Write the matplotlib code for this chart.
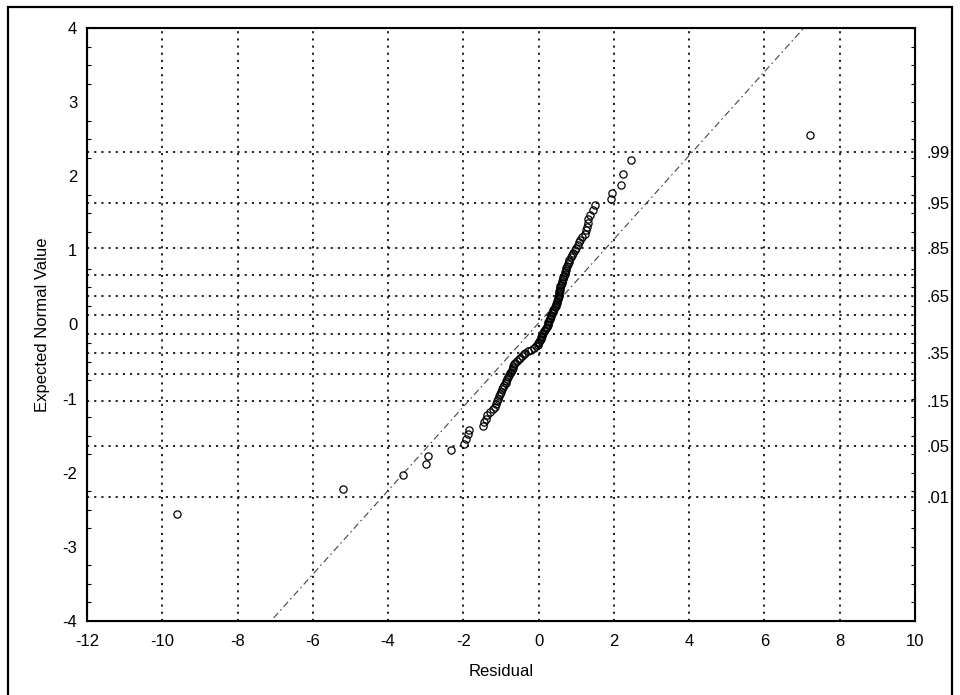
import matplotlib
matplotlib.use("Agg")
import matplotlib.pyplot as plt
from matplotlib.patches import Rectangle
from statistics import NormalDist
import numpy as np

plt.rcParams['font.family'] = ['Liberation Sans', 'DejaVu Sans']
plt.rcParams['axes.unicode_minus'] = False

# residuals, sorted ascending
residuals = [
    -9.6, -5.2, -3.6, -2.98, -2.94, -2.32, -1.97, -1.92, -1.87, -1.84,
    -1.48, -1.44, -1.40, -1.37, -1.28, -1.22, -1.17, -1.13, -1.10, -1.07,
    -1.05, -1.02, -1.00, -0.98, -0.95, -0.91, -0.88, -0.86, -0.84, -0.81,
    -0.78, -0.76, -0.74, -0.71, -0.69, -0.67, -0.65, -0.63, -0.58, -0.53,
    -0.49, -0.45, -0.40, -0.35, -0.27, -0.19, -0.12, -0.06, -0.03, -0.01,
    0.01, 0.03, 0.05, 0.06, 0.08, 0.10, 0.12, 0.14, 0.17, 0.19,
    0.22, 0.24, 0.25, 0.26, 0.27, 0.29, 0.30, 0.32, 0.34, 0.36,
    0.38, 0.39, 0.41, 0.43, 0.45, 0.46, 0.48, 0.50, 0.51, 0.52,
    0.53, 0.54, 0.55, 0.55, 0.56, 0.57, 0.58, 0.60, 0.62, 0.63,
    0.65, 0.66, 0.68, 0.69, 0.70, 0.72, 0.74, 0.76, 0.78, 0.80,
    0.82, 0.85, 0.88, 0.92, 0.96, 1.00, 1.04, 1.06, 1.10, 1.16,
    1.22, 1.26, 1.28, 1.30, 1.32, 1.36, 1.44, 1.49, 1.92, 1.95,
    2.18, 2.25, 2.45, 7.2,
]

# reference line parameters (mean and sd of the fitted normal)
ref_mean = -0.035
ref_sd = 1.77

prob_levels = [.01, .05, .15, .25, .35, .45, .55, .65, .75, .85, .95, .99]
prob_labels = ['.01', '.05', '.15', '', '.35', '', '', '.65', '', '.85', '.95', '.99']

x_ticks = list(range(-12, 11, 2))
y_ticks = list(range(-4, 5))

nd = NormalDist()
n = len(residuals)
expected = [nd.inv_cdf((j - 1.0 / 3.0) / (n + 1.0 / 3.0)) for j in range(1, n + 1)]
prob_z = [nd.inv_cdf(p) for p in prob_levels]

fig = plt.figure(figsize=(9.6, 6.95), dpi=100)
ax = fig.add_axes([87 / 960, 1 - 621 / 695, 828 / 960, 593 / 695])

dot = (0, (1.3, 3.0))
for xv in x_ticks[1:-1]:
    ax.axvline(xv, color='black', lw=1.2, ls=dot, zorder=1)
for z in prob_z:
    ax.axhline(z, color='black', lw=1.2, ls=dot, zorder=1)

xl = np.array([-12, 10])
ax.plot(xl, (xl - ref_mean) / ref_sd, color='#444444', lw=0.8,
        ls=(0, (6, 3, 1.5, 3)), zorder=2)

ax.plot(residuals, expected, 'o', mfc='none', mec='black', mew=0.9,
        markersize=5.2, zorder=3)

ax.set_xlim(-12, 10)
ax.set_ylim(-4, 4)
ax.set_xticks(x_ticks)
ax.set_yticks(y_ticks)
ax.set_yticks(np.arange(-4, 4.01, 0.25), minor=True)
ax.tick_params(axis='both', labelsize=12, direction='in', length=0)
ax.tick_params(axis='x', pad=9)
ax.tick_params(axis='y', pad=7)
ax.tick_params(axis='y', which='minor', direction='in', length=3, width=0.8)
for s in ax.spines.values():
    s.set_linewidth(1.5)

ax2 = ax.twinx()
ax2.set_ylim(-4, 4)
ax2.set_yticks(prob_z)
ax2.set_yticklabels(prob_labels)
ax2.set_yticks(np.arange(-4, 4.01, 0.25), minor=True)
ax2.tick_params(axis='y', labelsize=12, direction='in', length=0, pad=8)
ax2.tick_params(axis='y', which='minor', direction='in', length=3, width=0.8)

ax.set_xlabel('Residual', fontsize=12, labelpad=11)
ax.set_ylabel('Expected Normal Value', fontsize=12, labelpad=9)

fig.patches.append(Rectangle((8 / 960, -0.01), 944 / 960, 1.01 - 7 / 695,
                             transform=fig.transFigure, fill=False,
                             edgecolor='black', lw=1.6))

fig.savefig('out.png', dpi=100)
